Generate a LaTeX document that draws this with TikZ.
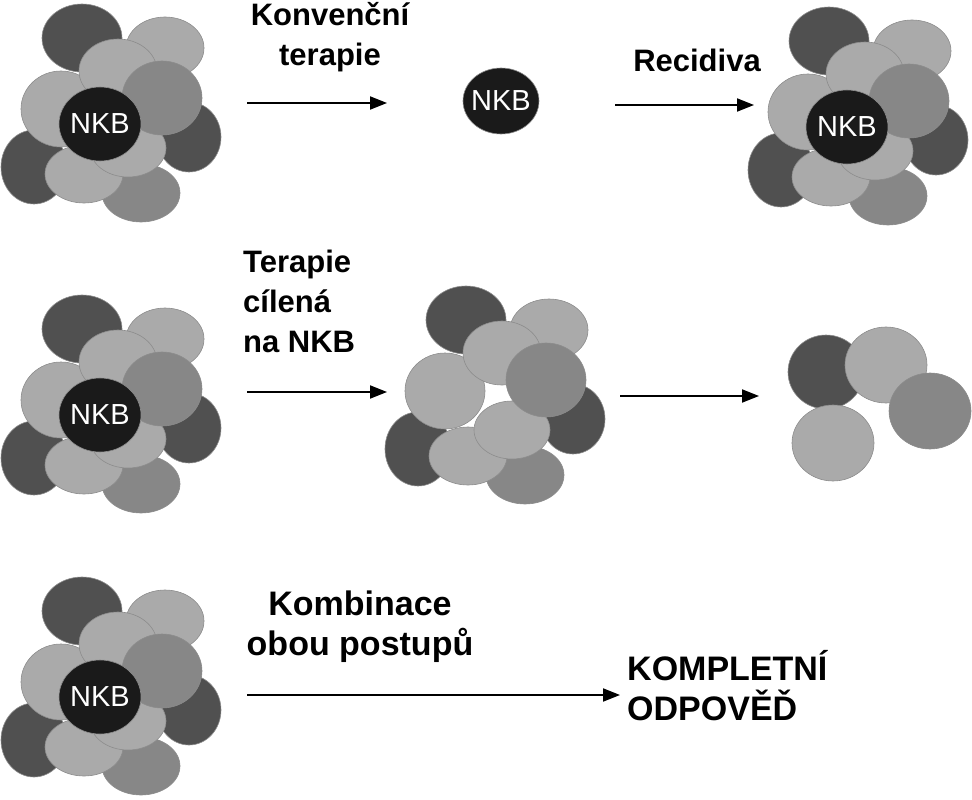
\documentclass[tikz,border=0pt]{standalone}
\usepackage{fontspec}
\setmainfont{Liberation Sans}
\usetikzlibrary{arrows.meta}
\definecolor{cdark}{HTML}{505050}
\definecolor{clight}{HTML}{AAAAAA}
\definecolor{cmed}{HTML}{878787}
\definecolor{cblk}{HTML}{1A1A1A}
\tikzset{
  cell/.style={draw=black!45,line width=0.6pt},
  nkb/.style={fill=cblk, draw=black!45, line width=0.6pt},
  nkbtxt/.style={text=white, font=\fontsize{29}{30}\selectfont},
  lbl/.style={font=\bfseries\fontsize{31}{40}\selectfont, inner sep=0pt},
  clbl/.style={font=\bfseries\fontsize{34}{40}\selectfont, inner sep=0pt},
  arr/.style={line width=2pt, -{Triangle[length=17pt,width=13pt]}},
}
\newcommand{\cel}[5]{\path[cell,fill=#1] (#2,#3) ellipse [x radius=#4, y radius=#5];}
\newcommand{\bgcells}{%
  \cel{cdark}{82}{38}{40}{34}
  \cel{clight}{165}{48}{39}{31}
  \cel{cdark}{189}{137}{32}{35}
  \cel{cdark}{34}{167}{33}{37}
  \cel{cmed}{141}{193}{39}{29}
  \cel{clight}{84}{174}{39}{29}
  \cel{clight}{128}{148}{38}{29}
  \cel{clight}{61}{109}{40}{38}
  \cel{clight}{118}{71}{39}{32}
  \cel{cmed}{162}{98}{40}{37}}
\begin{document}
\begin{tikzpicture}[x=1pt,y=-1pt]
\useasboundingbox (0,0) rectangle (972,800);
% row 1
\begin{scope}\bgcells\end{scope}
\path[nkb] (100,124) ellipse [x radius=41, y radius=37];
\node[nkbtxt] (nkb1) at (100,124) {NKB};
\begin{scope}[shift={(747,3)}]\bgcells
\path[nkb] (100,124) ellipse [x radius=41, y radius=37];
\node[nkbtxt] (nkb3) at (100,124) {NKB};
\end{scope}
\path[nkb] (501,101) ellipse [x radius=38, y radius=33];
\node[nkbtxt] (nkb2) at (501,101) {NKB};
\node[lbl,align=center] (t1) at (330,37) {Konvenční\\terapie};
\node[lbl] (t2) at (697,60) {Recidiva};
\coordinate (a1s) at (247,103); \coordinate (a1e) at (387,103);
\coordinate (a2s) at (615,105); \coordinate (a2e) at (754,105);
\draw[arr] (a1s) -- (a1e);
\draw[arr] (a2s) -- (a2e);
% row 2
\begin{scope}[shift={(0,291)}]\bgcells
\path[nkb] (100,124) ellipse [x radius=41, y radius=37];
\node[nkbtxt] (nkb4) at (100,124) {NKB};
\end{scope}
\begin{scope}[shift={(384,282)}]\bgcells\end{scope}
\cel{cdark}{826}{372}{38}{37}
\cel{clight}{886}{365}{41}{38}
\cel{cmed}{930}{411}{41}{38}
\cel{clight}{833}{443}{41}{38}
\node[lbl,align=left,anchor=north west] (t3) at (243,250) {Terapie\\cílená\\na NKB};
\coordinate (a3s) at (247,392); \coordinate (a3e) at (387,392);
\coordinate (a4s) at (620,396); \coordinate (a4e) at (759,396);
\draw[arr] (a3s) -- (a3e);
\draw[arr] (a4s) -- (a4e);
% row 3
\begin{scope}[shift={(0,573)}]\bgcells
\path[nkb] (100,124) ellipse [x radius=41, y radius=37];
\node[nkbtxt] (nkb5) at (100,124) {NKB};
\end{scope}
\node[clbl,align=center] (t4) at (360,627) {Kombinace\\obou postupů};
\node[clbl,align=left,anchor=west] (t5) at (627,686) {KOMPLETNÍ\\ODPOVĚĎ};
\coordinate (a5s) at (247,695); \coordinate (a5e) at (620,695);
\draw[arr] (a5s) -- (a5e);
\end{tikzpicture}
\end{document}
